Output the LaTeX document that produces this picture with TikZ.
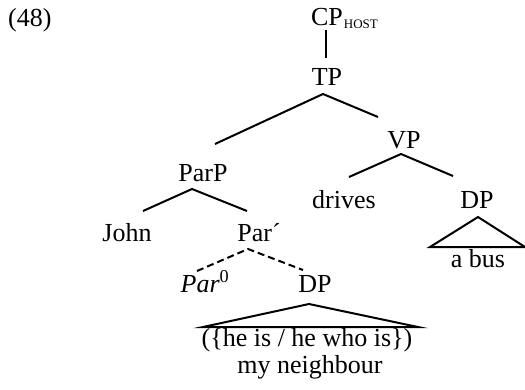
\documentclass[tikz,border=0pt]{standalone}
\usepackage{fontspec}
\setmainfont{Liberation Serif}
\usetikzlibrary{calc}

\begin{document}
\begin{tikzpicture}[
  x=1pt, y=-1pt,
  every node/.style={font=\fontsize{26}{31}\selectfont, anchor=base, inner sep=0pt},
  branch/.style={draw, line width=2pt},
  dashbranch/.style={branch, dash pattern=on 7pt off 4pt}
]
\useasboundingbox (0,0) rectangle (525,389);

\node[anchor=base west] (num) at (8,26) {(48)};

\node (cp) at (327,25) {CP\rlap{\hspace{1pt}\raisebox{-3pt}{\fontsize{13}{13}\selectfont HOST}}};
\node (tp) at (327,85) {TP};
\node (parp) at (203,181) {ParP};
\node (vp) at (404,148) {VP};
\node (john) at (127,241) {John};
\node (parbar) at (259,241) {Par´};
\node (drives) at (344,208) {drives};
\node (dpobj) at (477,208) {DP};
\node (abus) at (478,267) {a bus};
\node (parhead) at (205,292) {\textit{Par}\textsuperscript{0}};
\node (dpappos) at (315,292) {DP};
\node (clause) at (307,346) {(\{he is / he who is\})};
\node (neighbour) at (310,373) {my neighbour};

\draw[branch] ($(cp.base)+(-1,5)$) -- ($(tp.base)+(-1,-27)$);
\draw[branch] ($(parp.base)+(12,-37)$) -- ($(tp.base)+(-4,9)$) -- ($(vp.base)+(-26,-31)$);
\draw[branch] ($(drives.base)+(5,-31)$) -- ($(vp.base)+(-3,6)$) -- ($(dpobj.base)+(-24,-32)$);
\draw[branch] ($(john.base)+(16,-30)$) -- ($(parp.base)+(-11,8)$) -- ($(parbar.base)+(-12,-30)$);
\draw[dashbranch] ($(parhead.base)+(-8,-21)$) -- ($(parbar.base)+(-11,8)$) -- ($(dpappos.base)+(-12,-22)$);

% triangles over the unanalysed DPs
\draw[branch] ($(dpobj.base)+(1,9)$) -- ++(-48,30) -- ++(95,0) -- cycle;
\draw[branch] ($(dpappos.base)+(-6,12)$) -- ++(-106,23) -- ++(215,0) -- cycle;

\end{tikzpicture}
\end{document}
